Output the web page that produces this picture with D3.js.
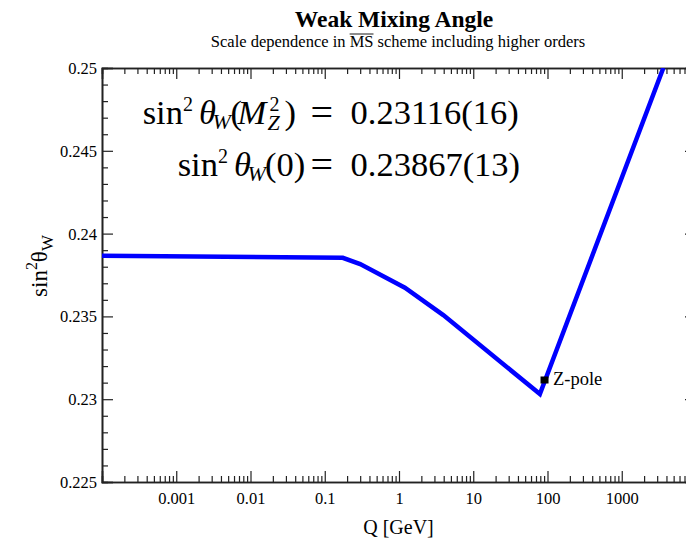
<!DOCTYPE html>
<html>
<head>
<meta charset="utf-8">
<script src="https://cdn.jsdelivr.net/npm/d3@7"></script>
<style>
  html, body { margin: 0; padding: 0; background: #fff; }
  svg, svg text { font-family: "Liberation Serif", Tinos, "Nimbus Roman", "Times New Roman", Times, "DejaVu Serif", serif !important; }
</style>
</head>
<body>
<div id="chart"></div>
<script>
// ---- data ----
const qValues = [1e-4, 0.175, 0.30, 1.2, 3.95, 79, 3630];          // Q [GeV]
const sin2Values = [0.23867, 0.23854, 0.23816, 0.23673, 0.23508, 0.23031, 0.25];
const zPoleQ = [91.19];
const zPoleValue = [0.23116];
const xTickValues = [0.001, 0.01, 0.1, 1, 10, 100, 1000];
const xTickLabels = ["0.001", "0.01", "0.1", "1", "10", "100", "1000"];
const yTickValues = [0.225, 0.23, 0.235, 0.24, 0.245, 0.25];
const yTickLabels = ["0.225", "0.23", "0.235", "0.24", "0.245", "0.25"];

const W = 686, H = 538;
const margin = { left: 102, top: 68, right: 696, bottom: 482 };

const svg = d3.select("#chart").append("svg")
  .attr("width", W).attr("height", H);

const x = d3.scaleLog().domain([1e-4, 1e4]).range([margin.left, margin.right]);
const y = d3.scaleLinear().domain([0.225, 0.25]).range([margin.bottom, margin.top]);

// minor ticks
const xMinor = [];
for (let e = -4; e < 4; e++) for (let m = 2; m <= 9; m++) xMinor.push(m * Math.pow(10, e));
const yMinor = d3.range(0.225, 0.2505, 0.001).map(v => +v.toFixed(3)).filter(v => !yTickValues.some(t => Math.abs(t - v) < 1e-6));

const axisColor = "#222";
const bigTick = 11, smallTick = 6;

// clip
svg.append("defs").append("clipPath").attr("id", "plotclip")
  .append("rect").attr("x", margin.left).attr("y", margin.top)
  .attr("width", margin.right - margin.left).attr("height", margin.bottom - margin.top);

// bottom axis
const gB = svg.append("g").attr("transform", `translate(0,${margin.bottom})`);
gB.call(d3.axisBottom(x).tickValues(xTickValues).tickSize(-bigTick).tickPadding(10)
  .tickFormat((d, i) => xTickLabels[i]));
gB.append("g").call(d3.axisBottom(x).tickValues(xMinor).tickSize(-smallTick).tickFormat(""));
// top axis
const gT = svg.append("g").attr("transform", `translate(0,${margin.top})`);
gT.call(d3.axisTop(x).tickValues(xTickValues).tickSize(-bigTick).tickFormat(""));
gT.append("g").call(d3.axisTop(x).tickValues(xMinor).tickSize(-smallTick).tickFormat(""));
// left axis
const gL = svg.append("g").attr("transform", `translate(${margin.left},0)`);
gL.call(d3.axisLeft(y).tickValues(yTickValues).tickSize(-bigTick).tickPadding(5)
  .tickFormat((d, i) => yTickLabels[i]));
gL.append("g").call(d3.axisLeft(y).tickValues(yMinor).tickSize(-smallTick).tickFormat(""));
// right axis
const gR = svg.append("g").attr("transform", `translate(${margin.right},0)`);
gR.call(d3.axisRight(y).tickValues(yTickValues).tickSize(-bigTick).tickFormat(""));
gR.append("g").call(d3.axisRight(y).tickValues(yMinor).tickSize(-smallTick).tickFormat(""));

svg.selectAll("g").attr("font-family", null);
svg.selectAll(".domain").attr("stroke", axisColor).attr("stroke-width", 1.6);
svg.selectAll(".tick line").attr("stroke", axisColor).attr("stroke-width", 1.2);
svg.selectAll(".tick text").attr("fill", "#000").style("font-size", "16.5px");
gL.selectAll(".tick text").attr("dy", "0.33em");
gB.selectAll(".tick text").attr("dy", "0.72em");

// curve
const pts = qValues.map((q, i) => [q, sin2Values[i]]);
svg.append("path").datum(pts)
  .attr("clip-path", "url(#plotclip)")
  .attr("fill", "none").attr("stroke", "#0000ff").attr("stroke-width", 4.5)
  .attr("stroke-linejoin", "miter")
  .attr("d", d3.line().x(d => x(d[0])).y(d => y(d[1])));

// Z pole marker
svg.selectAll(".zp").data(zPoleQ).enter().append("rect")
  .attr("x", d => x(d) - 4).attr("y", (d, i) => y(zPoleValue[i]) - 3.5)
  .attr("width", 8).attr("height", 7).attr("fill", "#000");
svg.selectAll(".zpl").data(zPoleQ).enter().append("text")
  .attr("x", d => x(d) + 8.5).attr("y", (d, i) => y(zPoleValue[i]) + 5.5)
  .style("font-size", "18.5px").text("Z-pole");

// titles
svg.append("text").attr("x", 394).attr("y", 27).attr("text-anchor", "middle")
  .style("font-size", "23.5px").style("font-weight", "bold").text("Weak Mixing Angle");
const subPre = "Scale dependence in ";
const sub = svg.append("text").attr("x", 398).attr("y", 47).attr("text-anchor", "middle")
  .style("font-size", "16.5px").text(subPre + "MS scheme including higher orders");
{
  const n = sub.node();
  const x0 = n.getStartPositionOfChar(subPre.length).x;
  const x1 = n.getEndPositionOfChar(subPre.length + 1).x;
  svg.append("line").attr("x1", x0).attr("x2", x1).attr("y1", 34).attr("y2", 34)
    .attr("stroke", "#000").attr("stroke-width", 0.9);
}

// axis labels
svg.append("text").attr("x", 398.5).attr("y", 534).attr("text-anchor", "middle")
  .style("font-size", "20px").text("Q [GeV]");
const yl = svg.append("text").attr("transform", "translate(47,266) rotate(-90)")
  .attr("text-anchor", "middle").style("font-size", "23px");
yl.append("tspan").text("sin");
yl.append("tspan").attr("dy", -10).style("font-size", "16px").text("2");
yl.append("tspan").attr("dy", 10).text("θ");
yl.append("tspan").attr("dy", 6).style("font-size", "17px").text("W");

// formulas (pieces placed left to right)
function formula(baseY, pieces) {
  const t = svg.append("text").style("white-space", "pre");
  pieces.forEach(p => {
    t.append("tspan").attr("x", p.x).attr("y", baseY + (p.dy || 0))
      .style("font-size", (p.size || 34.5) + "px")
      .style("font-style", p.it ? "italic" : "normal")
      .text(p.s);
  });
}
formula(124, [
  { s: "sin", x: 142.7 },
  { s: "2", x: 183, size: 20, dy: -13.5 },
  { s: "θ", x: 199, it: true },
  { s: "W", x: 212.5, it: true, size: 22, dy: 4.5 },
  { s: "(", x: 230.5 },
  { s: "M", x: 237.5, it: true },
  { s: "2", x: 269.5, size: 20, dy: -13.5 },
  { s: "Z", x: 267.5, it: true, size: 22, dy: 5.5 },
  { s: ")", x: 284.5 },
  { s: "=", x: 310.5, size: 40, dy: 1.5 },
  { s: "0.23116(16)", x: 350.5 }
]);
formula(176, [
  { s: "sin", x: 177.7 },
  { s: "2", x: 218, size: 20, dy: -13.5 },
  { s: "θ", x: 234, it: true },
  { s: "W", x: 247.5, it: true, size: 22, dy: 4.5 },
  { s: "(0)", x: 265 },
  { s: "=", x: 310.5, size: 40, dy: 1.5 },
  { s: "0.23867(13)", x: 350.5 }
]);
</script>
</body>
</html>
